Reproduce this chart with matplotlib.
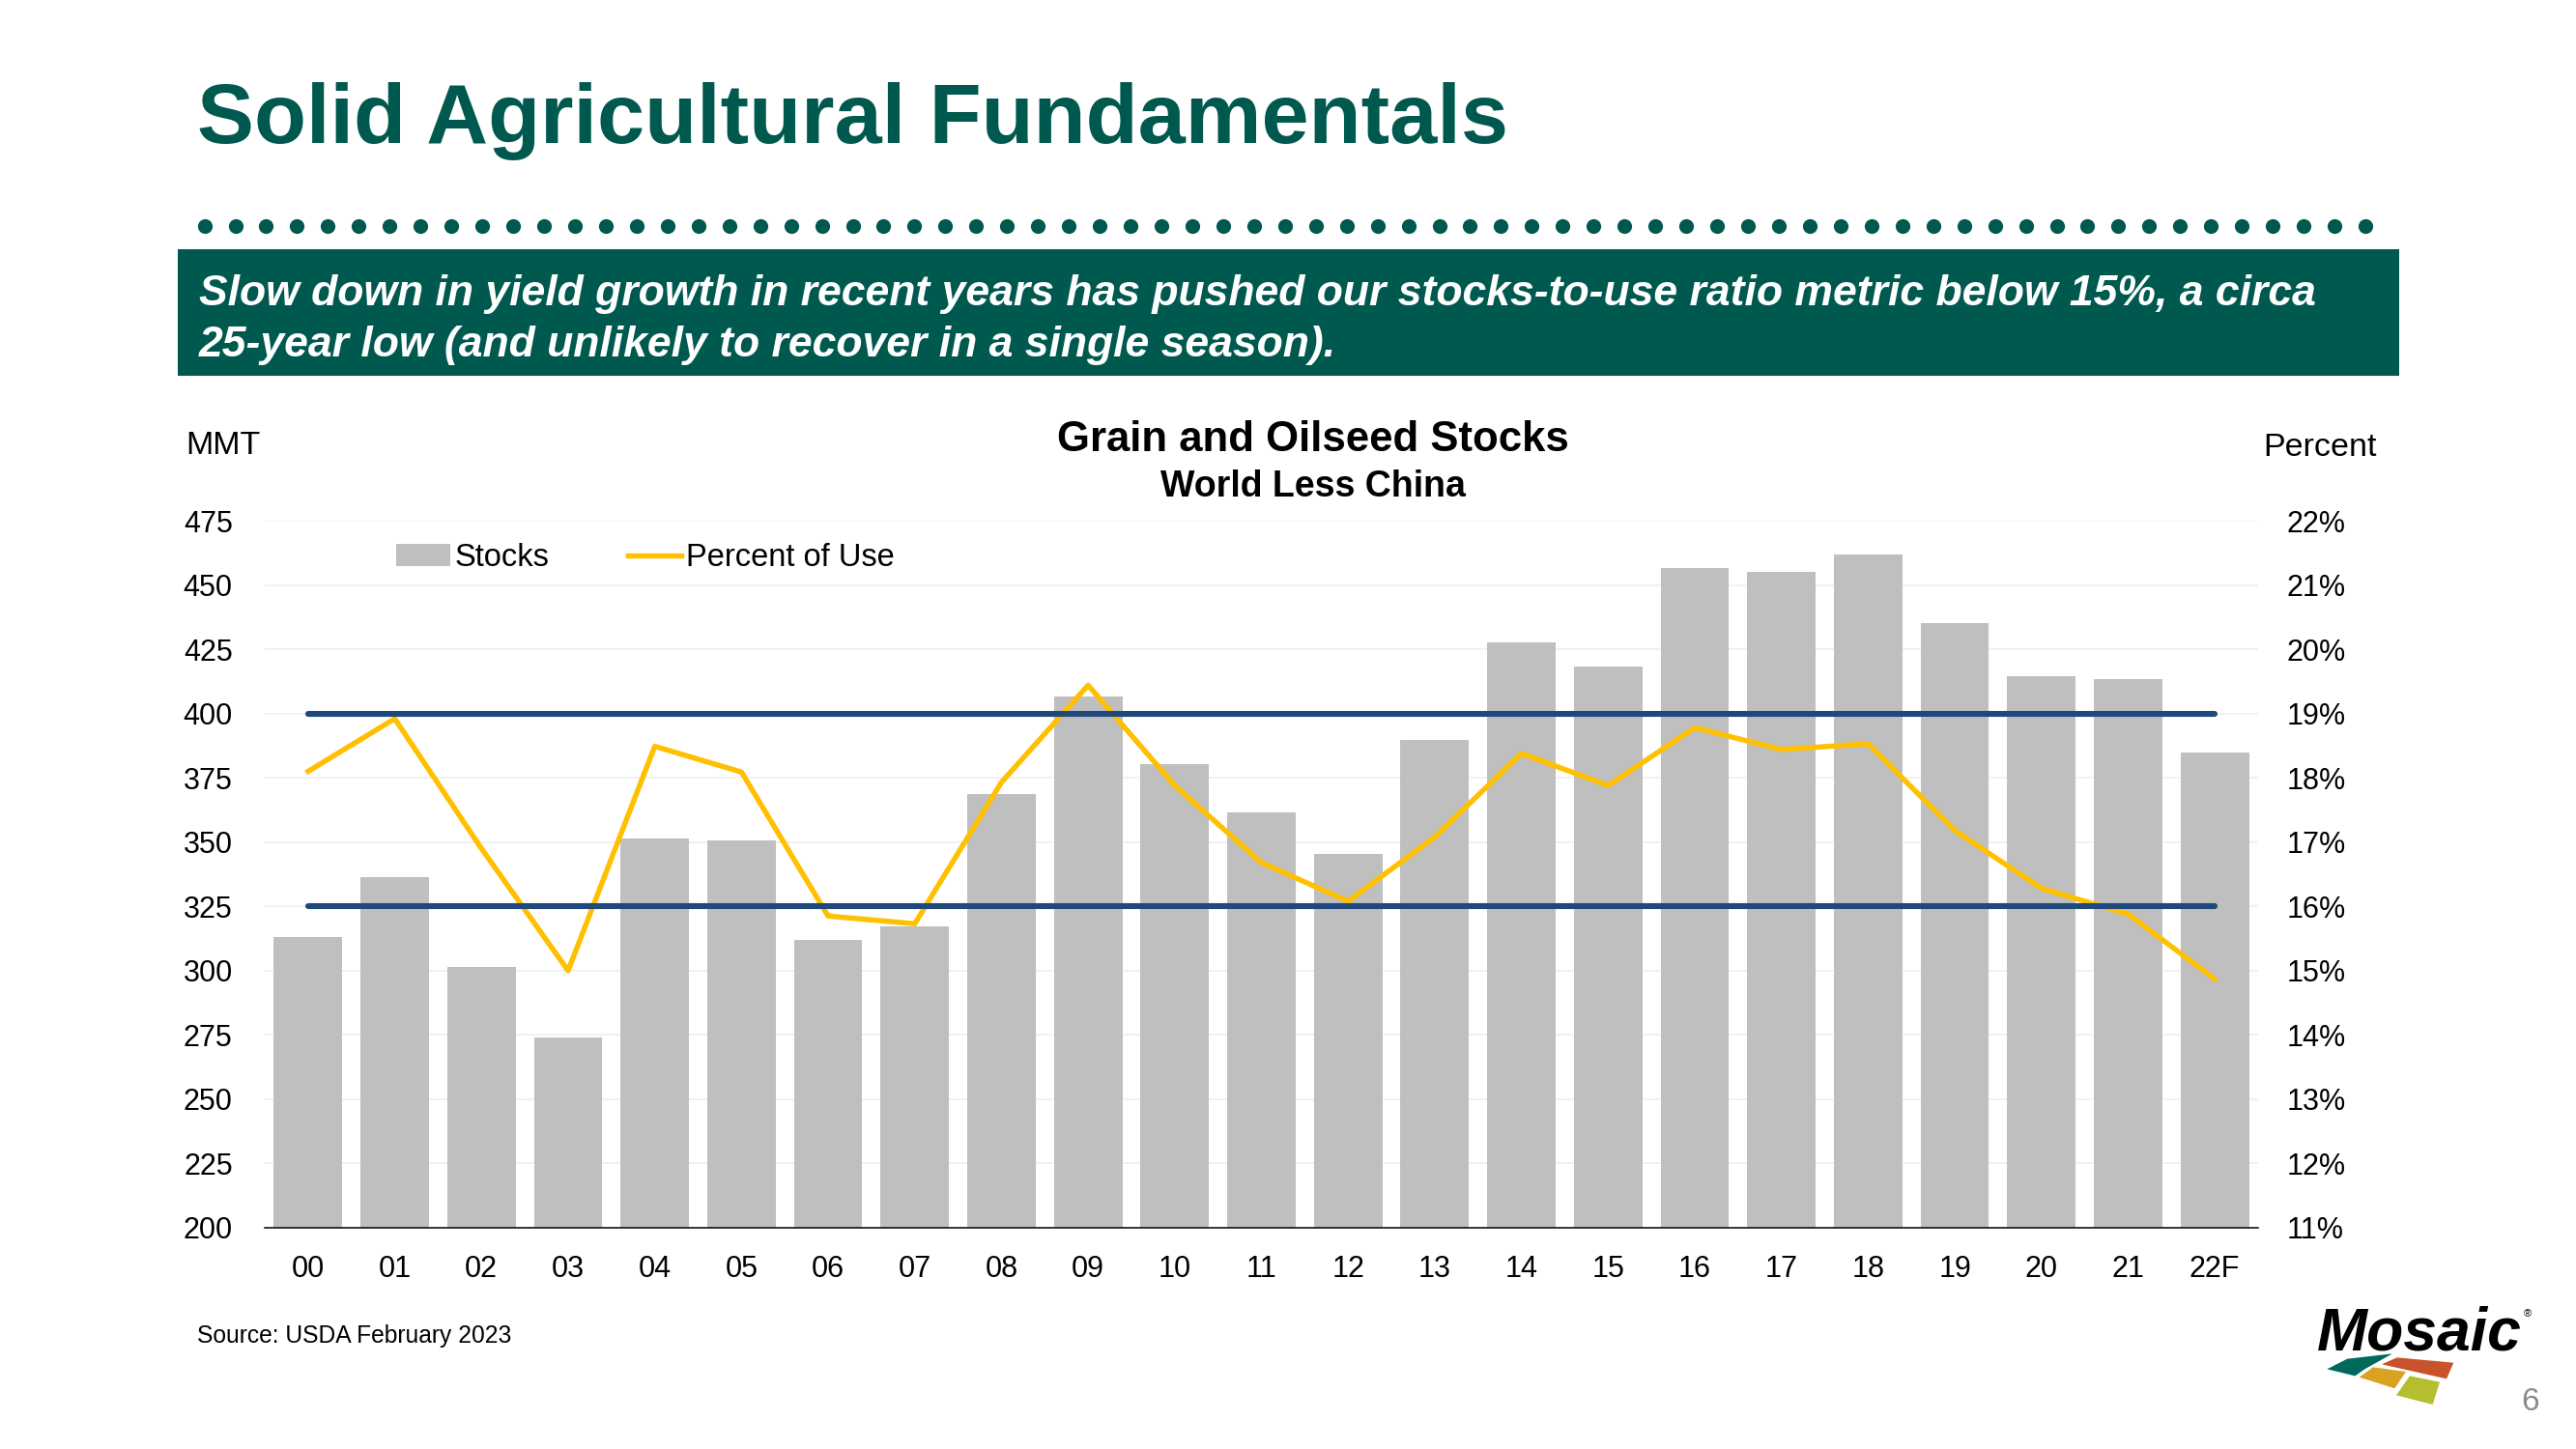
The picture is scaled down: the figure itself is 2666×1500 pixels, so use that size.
import matplotlib.pyplot as plt
from matplotlib.patches import Rectangle, Polygon
import numpy as np

plt.rcParams['font.family'] = ['Liberation Sans', 'DejaVu Sans']

# data
years = ['00', '01', '02', '03', '04', '05', '06', '07', '08', '09', '10', '11',
         '12', '13', '14', '15', '16', '17', '18', '19', '20', '21', '22F']
stocks = [313.0, 336.5, 301.6, 274.0, 351.3, 350.6, 311.8, 317.4, 368.6, 406.6, 380.3, 361.4,
          345.4, 389.7, 427.5, 418.1, 456.5, 455.0, 461.7, 435.2, 414.5, 413.3, 384.8]
pct_of_use = [18.10, 18.92, 16.90, 15.00, 18.49, 18.09, 15.85, 15.73, 17.93, 19.44, 17.88, 16.68,
              16.08, 17.08, 18.38, 17.88, 18.78, 18.44, 18.53, 17.18, 16.28, 15.88, 14.87]
band_pct = [19, 16]
left_ticks = list(range(200, 476, 25))
right_ticks = list(range(11, 23))

GREEN = '#00594F'
GRAY = '#BFBFBF'
YELLOW = '#FFC000'
NAVY = '#1F497D'

W, H = 2666, 1500
fig = plt.figure(figsize=(W / 100, H / 100), dpi=100)

# background layer in pixel coordinates (title, banner, logo)
bg = fig.add_axes([0, 0, 1, 1], zorder=-1)
bg.set_xlim(0, W)
bg.set_ylim(H, 0)
bg.axis('off')

bg.text(204, 148, 'Solid Agricultural Fundamentals', fontsize=63.6, fontweight='bold',
        color=GREEN, va='baseline', ha='left')

dots_x = np.linspace(211.6, 2448, 71)
bg.scatter(dots_x, np.full_like(dots_x, 234), s=120, color=GREEN, linewidths=0)

bg.add_patch(Rectangle((184, 258), 2483 - 184, 389 - 258, color=GREEN, lw=0))
bg.text(206, 316, 'Slow down in yield growth in recent years has pushed our stocks-to-use ratio metric below 15%, a circa',
        fontsize=32, fontweight='bold', style='italic', color='white', va='baseline')
bg.text(206, 369, '25-year low (and unlikely to recover in a single season).',
        fontsize=32, fontweight='bold', style='italic', color='white', va='baseline')

bg.text(1359, 467, 'Grain and Oilseed Stocks', fontsize=31.5, fontweight='bold', ha='center', va='baseline')
bg.text(1359, 514, 'World Less China', fontsize=27, fontweight='bold', ha='center', va='baseline')
bg.text(192, 461, 'MMT', fontsize=24.5, va='center', ha='left')
bg.text(2342, 463, 'Percent', fontsize=24.5, va='center', ha='left')
bg.text(204, 1390, 'Source: USDA February 2023', fontsize=17.7, va='baseline', ha='left')

# Mosaic logo
bg.text(2398, 1398, 'Mosaic', fontsize=45, fontweight='heavy', style='italic', va='baseline', ha='left')
bg.text(2616, 1360, '\u00ae', fontsize=8, va='center', ha='center')
logo_shapes = [
    ('#00695C', [(175, 262), (238, 230), (378, 214), (292, 262), (262, 283)]),
    ('#C8522A', [(345, 247), (392, 226), (568, 242), (546, 292)]),
    ('#D9A321', [(275, 287), (318, 256), (420, 270), (385, 322)]),
    ('#B5BE2E', [(390, 343), (432, 283), (525, 302), (503, 372)]),
]
for col, pts in logo_shapes:
    bg.add_patch(Polygon([(2350 + x / 3, 1330 + y / 3) for x, y in pts], closed=True, color=col, lw=0))
bg.text(2619, 1460, '6', fontsize=24, color='#8C8C8C', ha='center', va='baseline')

# chart
ax = fig.add_axes([274 / W, 1 - 1271 / H, (2337 - 274) / W, (1271 - 539) / H])
x = np.arange(len(years))
bars = ax.bar(x, stocks, width=0.79, color=GRAY, zorder=2, label='Stocks')
ax.set_xlim(-0.5, len(years) - 0.5)
ax.set_ylim(200, 475)
ax.set_yticks(left_ticks)
ax.set_xticks(x)
ax.set_xticklabels(years)
ax.grid(axis='y', color='#EFEFEF', linewidth=1.2, zorder=0)
ax.set_axisbelow(True)
for s in ['top', 'left', 'right']:
    ax.spines[s].set_visible(False)
ax.spines['bottom'].set_color('black')
ax.spines['bottom'].set_linewidth(1.1)
ax.spines['bottom'].set_zorder(3)
ax.tick_params(axis='y', length=0, labelsize=22, pad=24)
ax.tick_params(axis='x', length=0, labelsize=22, pad=20)

ax2 = ax.twinx()
ax2.set_ylim(11, 22)
ax2.set_yticks(right_ticks)
ax2.set_yticklabels([f'{t}%' for t in right_ticks])
for s in ax2.spines.values():
    s.set_visible(False)
ax2.tick_params(axis='y', length=0, labelsize=22, pad=21)

line, = ax2.plot(x, pct_of_use, color=YELLOW, linewidth=3.9, zorder=3, label='Percent of Use')
for lvl in band_pct:
    ax2.plot([x[0], x[-1]], [lvl, lvl], color=NAVY, linewidth=4.4, solid_capstyle='round', zorder=4)

ax2.legend(handles=[bars, line], labels=['Stocks', 'Percent of Use'], loc='center left',
           bbox_to_anchor=(0.066, 0.947), ncol=2, frameon=False, fontsize=23.5,
           borderpad=0, borderaxespad=0, handlelength=1.7, handletextpad=0.15, columnspacing=2.5)

fig.savefig('out.png', dpi=100)
